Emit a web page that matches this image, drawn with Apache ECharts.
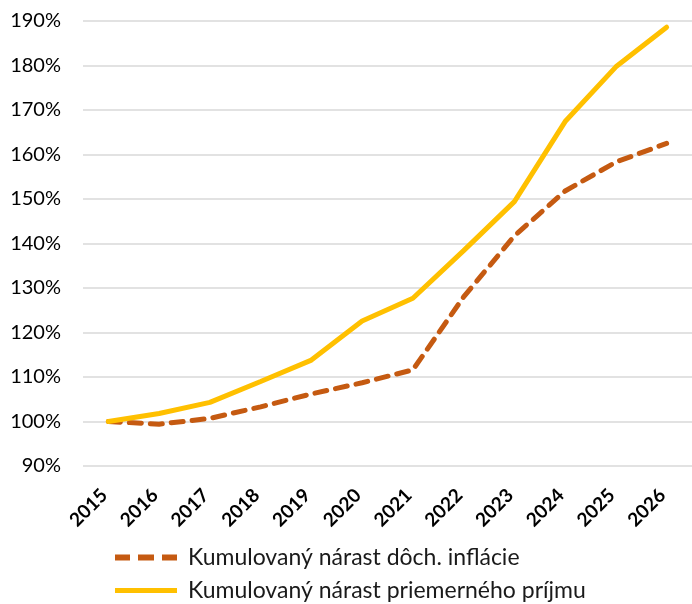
<!DOCTYPE html>
<html>
<head>
<meta charset="utf-8">
<script src="https://cdn.jsdelivr.net/npm/echarts@6/dist/echarts.min.js"></script>
<style>
html,body{margin:0;padding:0;background:#fff;}
#chart{width:692px;height:604px;}
</style>
</head>
<body>
<div id="chart"></div>
<script>
var years = ['2015','2016','2017','2018','2019','2020','2021','2022','2023','2024','2025','2026'];
var inflation = [100, 99.4, 100.7, 103.3, 106.2, 108.7, 111.6, 128, 141.7, 151.8, 158.3, 162.5];
var income = [100, 101.8, 104.3, 109, 113.8, 122.6, 127.7, 138.4, 149.4, 167.4, 179.7, 188.6];
var inflationName = 'Kumulovaný nárast dôch. inflácie';
var incomeName = 'Kumulovaný nárast priemerného príjmu';

var chart = echarts.init(document.getElementById('chart'));
var font = 'Lato, "Open Sans", sans-serif';
var legendText = {fontFamily: font, fontSize: 23, color: '#1a1a1a', padding: [0,0,0,6]};
chart.setOption({
  animation: false,
  backgroundColor: '#fff',
  grid: {left: 83, right: -2, top: 21, bottom: 138},
  legend: [
    {
      left: 115, top: 546, padding: 0,
      itemWidth: 62, itemHeight: 14,
      textStyle: legendText,
      data: [{name: inflationName, icon: 'path://M0,0 L15,0 L15,6 L0,6 Z M23,0 L39,0 L39,6 L23,6 Z M47,0 L62,0 L62,6 L47,6 Z', itemStyle: {color: '#C55A11'}}]
    },
    {
      left: 115, top: 579, padding: 0,
      itemWidth: 62, itemHeight: 14,
      textStyle: legendText,
      data: [{name: incomeName, icon: 'path://M0,0 L62,0 L62,5 L0,5 Z', itemStyle: {color: '#FFC000'}}]
    }
  ],
  xAxis: {
    type: 'category',
    data: years,
    boundaryGap: true,
    axisLine: {show: false},
    axisTick: {show: false},
    axisLabel: {rotate: 45, fontFamily: font, fontWeight: 'bold', fontSize: 19, color: '#000', margin: 22, padding: [0, 6, 0, 0]}
  },
  yAxis: {
    type: 'value',
    min: 90,
    max: 190,
    interval: 10,
    axisLine: {show: false},
    axisTick: {show: false},
    splitLine: {lineStyle: {color: '#D9D9D9', width: 1.5}},
    axisLabel: {formatter: '{value}%', fontFamily: font, fontSize: 20, color: '#000', margin: 22}
  },
  series: [
    {
      name: inflationName,
      type: 'line',
      data: inflation,
      symbol: 'none',
      z: 2,
      lineStyle: {color: '#C55A11', width: 5, type: [12, 9], cap: 'round'},
      itemStyle: {color: '#C55A11'}
    },
    {
      name: incomeName,
      type: 'line',
      data: income,
      symbol: 'none',
      z: 3,
      lineStyle: {color: '#FFC000', width: 5, cap: 'round'},
      itemStyle: {color: '#FFC000'}
    }
  ]
});
</script>
</body>
</html>
